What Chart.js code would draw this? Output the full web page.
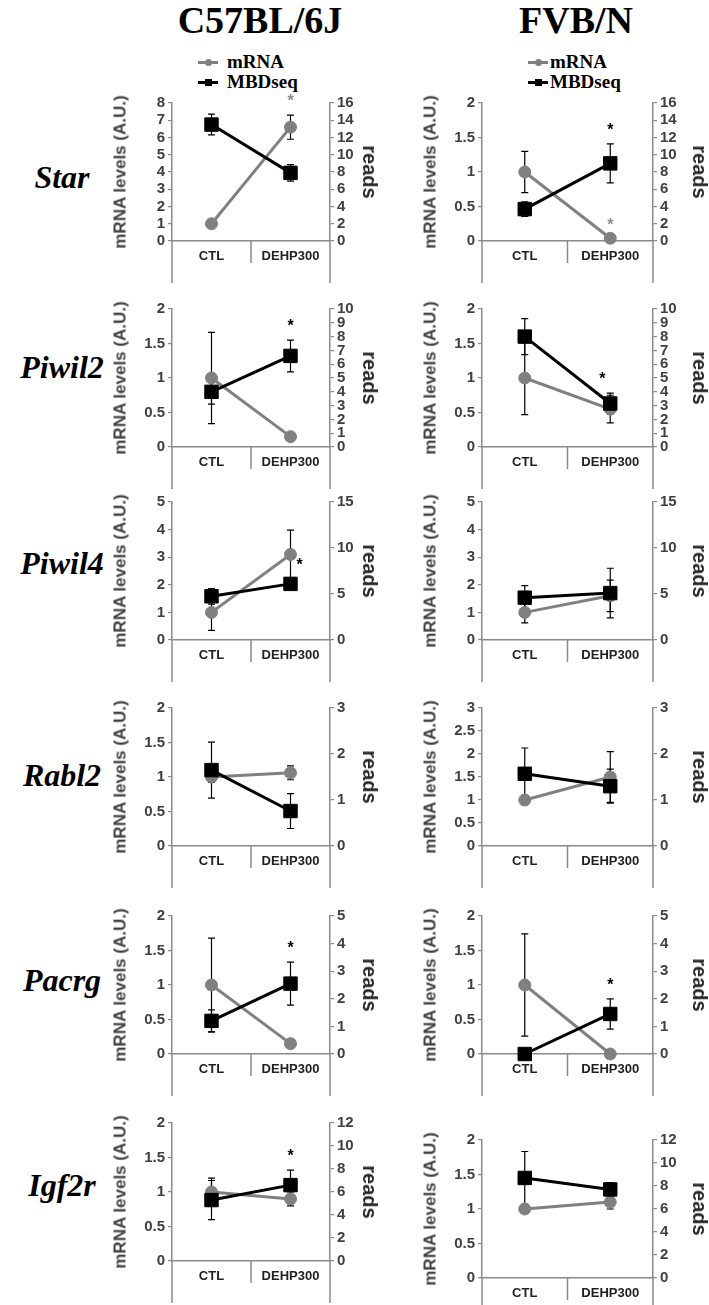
<!DOCTYPE html>
<html><head><meta charset="utf-8">
<script src="https://cdn.jsdelivr.net/npm/chart.js@4.4.0/dist/chart.umd.min.js"></script>
<style>
html,body{margin:0;padding:0;background:#fff;}
#page{position:relative;width:709px;height:1305px;overflow:hidden;background:#fff;}
canvas{position:absolute;}
.t{position:absolute;white-space:nowrap;line-height:1;}
.title{font-family:"Liberation Serif","Times New Roman",serif;font-weight:bold;font-size:38px;color:#000;transform:translateX(-50%);}
.gene{font-family:"Liberation Serif","Times New Roman",serif;font-weight:bold;font-style:italic;font-size:32px;color:#000;transform:translateX(-50%);}
.leg{font-family:"Liberation Serif","Times New Roman",serif;font-weight:bold;font-size:19px;color:#000;}
.ytl{font-family:"Liberation Sans",Arial,sans-serif;font-weight:bold;font-size:17px;color:#404040;transform:translate(-50%,-50%) rotate(-90deg);}
.ytr{font-family:"Liberation Sans",Arial,sans-serif;font-weight:bold;font-size:20px;color:#262626;transform:translate(-50%,-50%) rotate(90deg);}
.mk{position:absolute;}
</style></head>
<body><div id="page"></div>
<script>
// ---------------- DATA ----------------
const strains = ['C57BL/6J', 'FVB/N'];
const genes = ['Star', 'Piwil2', 'Piwil4', 'Rabl2', 'Pacrg', 'Igf2r'];
const categories = ['CTL', 'DEHP300'];
const seriesNames = ['mRNA', 'MBDseq'];

// C57BL/6J : [CTL, DEHP300] per gene
const c57_mRNA      = [[1, 6.6], [1, 0.15], [1, 3.1], [1, 1.06], [1, 0.15], [1, 0.9]];
const c57_mRNA_err  = [[0, 0.7], [0.66, 0], [0.65, 0.88], [0.08, 0.1], [0.68, 0], [0.2, 0.1]];
const c57_MBD       = [[13.5, 7.9], [4.0, 6.6], [4.75, 6.1], [1.65, 0.76], [1.2, 2.55], [5.3, 6.6]];
const c57_MBD_err   = [[1.2, 0.95], [0.9, 1.15], [0.85, 0.6], [0.61, 0.38], [0.4, 0.78], [1.7, 1.3]];
const c57_leftAxis  = [[8, 1], [2, 0.5], [5, 1], [2, 0.5], [2, 0.5], [2, 0.5]];   // [max, step]
const c57_rightAxis = [[16, 2], [10, 1], [15, 5], [3, 1], [5, 1], [12, 2]];
const c57_signif    = [['mRNA'], ['MBDseq'], ['MBDseq'], [], ['MBDseq'], ['MBDseq']];

// FVB/N : [CTL, DEHP300] per gene
const fvb_mRNA      = [[1, 0.04], [1, 0.55], [1, 1.6], [1, 1.5], [1, 0], [1, 1.1]];
const fvb_mRNA_err  = [[0.3, 0], [0.53, 0.2], [0.38, 0.57], [0.1, 0.55], [0.74, 0], [0, 0.1]];
const fvb_MBD       = [[3.7, 9.0], [8.0, 3.15], [4.6, 5.1], [1.57, 1.3], [0, 1.45], [8.7, 7.7]];
const fvb_MBD_err   = [[0.85, 2.25], [1.3, 0.75], [1.3, 2.7], [0.56, 0.37], [0, 0.55], [2.3, 0.6]];
const fvb_leftAxis  = [[2, 0.5], [2, 0.5], [5, 1], [3, 0.5], [2, 0.5], [2, 0.5]];
const fvb_rightAxis = [[16, 2], [10, 1], [15, 5], [3, 1], [5, 1], [12, 2]];
const fvb_signif    = [['MBDseq', 'mRNA'], ['MBDseq'], [], [], ['MBDseq'], []];

const leftTitle = 'mRNA levels (A.U.)';
const rightTitle = 'reads';

// ---------------- LAYOUT / STYLE ----------------
const FONT = '"Liberation Sans", Arial, sans-serif';
const AX = '#8a8a8a';
const GRAY = '#808080';
const colPlotLeft = [172, 482];
const colPlotW = [158, 171];
const rowTop = [103, 309, 502, 708, 916, 1123];
const rowH = 138;
const rowShift = [[0,0,0,0,0,0],[0,0,0,0,0,17]];
const geneY = [177, 367, 563, 775, 980, 1185];
const titleX = [260, 576];
const legMarkX = [198, 528];
const legTextX = [227, 550];
const yTitleX = [120, 430];
const readsX = [370, 700];
const astShift = {'0-2': 9, '1-1': -8};

const page = document.getElementById('page');
function addText(cls, txt, x, y, extra) {
  const d = document.createElement('div');
  d.className = 't ' + cls;
  d.textContent = txt;
  d.style.left = x + 'px';
  d.style.top = y + 'px';
  if (extra) Object.assign(d.style, extra);
  page.appendChild(d);
  return d;
}
function addBox(x, y, w, h, color, round) {
  const d = document.createElement('div');
  d.className = 'mk';
  Object.assign(d.style, {left: x + 'px', top: y + 'px', width: w + 'px', height: h + 'px', background: color, borderRadius: round ? '50%' : '0'});
  page.appendChild(d);
}

// titles
strains.forEach((s, c) => addText('title', s, titleX[c], 1));
// legends
strains.forEach((s, c) => {
  const ys = [62, 82];
  seriesNames.forEach((n, i) => {
    const col = i === 0 ? GRAY : '#000';
    addBox(legMarkX[c], ys[i] - 1.5, 20, 3, col, false);
    addBox(legMarkX[c] + 10 - 3.5, ys[i] - 3.5, 7, 7, col, i === 0);
    addText('leg', n, legTextX[c], ys[i] + 6.3 - 15.9);
  });
});
// gene names
genes.forEach((g, r) => addText('gene', g, 62, geneY[r] + 10.6 - 26.8));

// ---------------- PLUGINS ----------------
const errPlugin = {
  id: 'errbars',
  beforeDatasetsDraw(chart) {
    const ctx = chart.ctx;
    chart.data.datasets.forEach((ds, i) => {
      const meta = chart.getDatasetMeta(i);
      const sc = chart.scales[ds.yAxisID];
      ds.errors.forEach((e, j) => {
        if (!e) return;
        const x = meta.data[j].x;
        const v = ds.data[j];
        const yt = sc.getPixelForValue(v + e), yb = sc.getPixelForValue(v - e);
        ctx.save();
        ctx.strokeStyle = '#000';
        ctx.lineWidth = 1.2;
        ctx.beginPath();
        ctx.moveTo(x, yt); ctx.lineTo(x, yb);
        ctx.moveTo(x - 3.5, yt); ctx.lineTo(x + 3.5, yt);
        ctx.moveTo(x - 3.5, yb); ctx.lineTo(x + 3.5, yb);
        ctx.stroke();
        ctx.restore();
      });
    });
  }
};
const extPlugin = {
  id: 'axisext',
  afterDraw(chart) {
    const ctx = chart.ctx, a = chart.chartArea, xs = chart.scales.x;
    const mid = (xs.getPixelForTick(0) + xs.getPixelForTick(1)) / 2;
    ctx.save();
    ctx.strokeStyle = AX;
    ctx.lineWidth = 1.5;
    ctx.beginPath();
    ctx.moveTo(a.left, a.bottom); ctx.lineTo(a.left, a.bottom + 42);
    ctx.moveTo(a.right, a.bottom); ctx.lineTo(a.right, a.bottom + 42);
    ctx.moveTo(mid, a.bottom); ctx.lineTo(mid, a.bottom + 22);
    ctx.stroke();
    ctx.restore();
  }
};
const astPlugin = {
  id: 'asterisks',
  afterDatasetsDraw(chart) {
    const o = chart.options.plugins.asterisks;
    if (!o || !o.list.length) return;
    const ctx = chart.ctx;
    o.list.forEach(name => {
      const i = chart.data.datasets.findIndex(d => d.label === name);
      const ds = chart.data.datasets[i];
      const meta = chart.getDatasetMeta(i);
      const sc = chart.scales[ds.yAxisID];
      const x = meta.data[1].x + (o.dx || 0);
      const yc = sc.getPixelForValue(ds.data[1] + ds.errors[1]) - 18;
      ctx.save();
      ctx.font = 'bold 16px ' + FONT;
      ctx.fillStyle = name === 'mRNA' ? '#8c8c8c' : '#000';
      ctx.textAlign = 'center';
      ctx.textBaseline = 'alphabetic';
      ctx.fillText('*', x, yc + 9.3);
      ctx.restore();
    });
  }
};

// ---------------- PANELS ----------------
const sets = [
  {mrna: c57_mRNA, mrnaE: c57_mRNA_err, mbd: c57_MBD, mbdE: c57_MBD_err, la: c57_leftAxis, ra: c57_rightAxis, sig: c57_signif},
  {mrna: fvb_mRNA, mrnaE: fvb_mRNA_err, mbd: fvb_MBD, mbdE: fvb_MBD_err, la: fvb_leftAxis, ra: fvb_rightAxis, sig: fvb_signif}
];

function tickOpts(step) {
  return {stepSize: step, autoSkip: false, font: {family: FONT, size: 15, weight: 'bold'}, color: '#404040', padding: 3,
          callback: v => String(Math.round(v * 100) / 100)};
}

function makePanel(c, r) {
  const S = sets[c];
  const padL = 50, padR = 50, padT = 15, padB = 50;
  const plotLeft = colPlotLeft[c], plotW = colPlotW[c];
  const plotTop = rowTop[r] + rowShift[c][r];
  const W = plotW + padL + padR, H = rowH + padT + padB;
  const cv = document.createElement('canvas');
  cv.width = W; cv.height = H;
  Object.assign(cv.style, {left: (plotLeft - padL) + 'px', top: (plotTop - padT) + 'px', width: W + 'px', height: H + 'px'});
  page.appendChild(cv);

  addText('ytl', leftTitle, yTitleX[c], plotTop + rowH / 2);
  addText('ytr', rightTitle, readsX[c], plotTop + rowH / 2);

  new Chart(cv, {
    type: 'line',
    data: {
      labels: categories,
      datasets: [
        {label: 'MBDseq', data: S.mbd[r], errors: S.mbdE[r], yAxisID: 'y1', order: 0, clip: false,
         borderColor: '#000', backgroundColor: '#000', borderWidth: 3,
         pointStyle: 'rect', pointRadius: 9.5, pointBorderWidth: 1, pointBackgroundColor: '#000', pointBorderColor: '#000'},
        {label: 'mRNA', data: S.mrna[r], errors: S.mrnaE[r], yAxisID: 'y', order: 1, clip: false,
         borderColor: GRAY, backgroundColor: GRAY, borderWidth: 3,
         pointStyle: 'circle', pointRadius: 6, pointBorderWidth: 1, pointBackgroundColor: GRAY, pointBorderColor: GRAY}
      ]
    },
    options: {
      responsive: false, animation: false, devicePixelRatio: 1,
      layout: {padding: {top: padT, left: 0, right: 0, bottom: 0}},
      plugins: {legend: {display: false}, tooltip: {enabled: false},
        asterisks: {list: S.sig[r], dx: astShift[c + '-' + r] || 0}},
      scales: {
        x: {type: 'category', offset: true,
            grid: {display: false},
            border: {display: true, color: AX, width: 1.5},
            ticks: {font: {family: FONT, size: 13, weight: 'bold'}, color: '#222', padding: 0, maxRotation: 0, autoSkip: false},
            afterFit(s) { s.height = padB; }},
        y: {position: 'left', min: 0, max: S.la[r][0],
            ticks: tickOpts(S.la[r][1]),
            grid: {drawOnChartArea: false, drawTicks: true, tickLength: 4, color: AX, lineWidth: 1.2},
            border: {display: true, color: AX, width: 1.5},
            afterFit(s) { s.width = padL; }},
        y1: {position: 'right', min: 0, max: S.ra[r][0],
            ticks: tickOpts(S.ra[r][1]),
            grid: {drawOnChartArea: false, drawTicks: true, tickLength: 4, color: AX, lineWidth: 1.2},
            border: {display: true, color: AX, width: 1.5},
            afterFit(s) { s.width = padR; }}
      }
    },
    plugins: [errPlugin, extPlugin, astPlugin]
  });
}

for (let r = 0; r < genes.length; r++) for (let c = 0; c < strains.length; c++) makePanel(c, r);
</script>
</body></html>
